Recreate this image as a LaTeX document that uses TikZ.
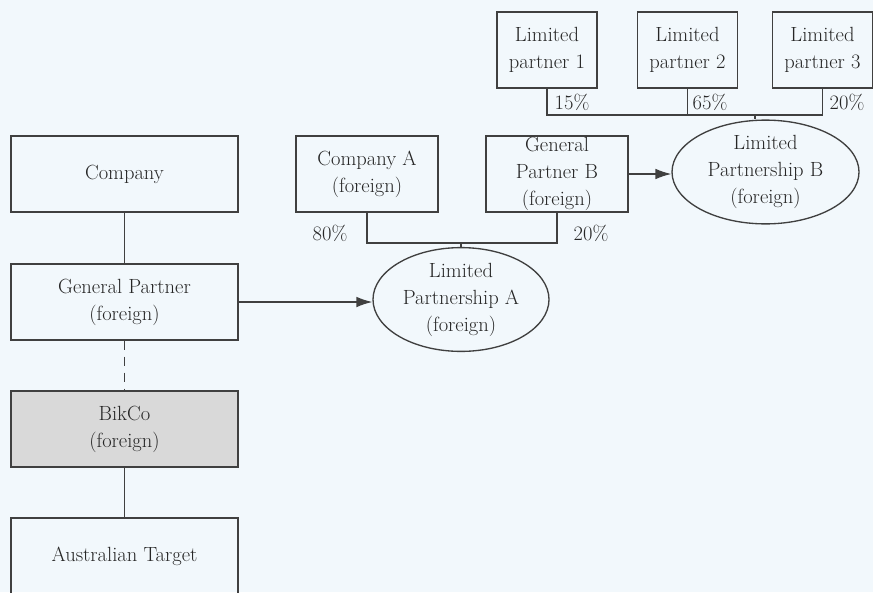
\documentclass[tikz,border=0pt]{standalone}
\usetikzlibrary{shapes.geometric,arrows.meta}
\definecolor{paper}{HTML}{F2F8FC}
\definecolor{ink}{HTML}{404040}
\begin{document}
\begin{tikzpicture}[x=0.75pt,y=-0.75pt,font={\fontsize{15.4}{20.25}\selectfont},text=black!85,
  box/.style={draw=ink,line width=1pt,align=center,inner sep=0pt,minimum height=57pt},
  oval/.style={ellipse,draw=ink,line width=1pt,align=center,inner sep=0pt},
  link/.style={draw=ink,line width=1pt},
  tip/.style={-{Latex[length=12pt,width=8pt]}},
  pct/.style={inner sep=0pt}]
\useasboundingbox[fill=paper] (0,0) rectangle (873,592);
\node[box,minimum width=170.25pt] (company) at (124.5,174) {Company};
\node[box,minimum width=170.25pt] (gp) at (124.5,302) {General Partner\\(foreign)};
\node[box,minimum width=170.25pt,fill=black!15] (bikco) at (124.5,429) {BikCo\\(foreign)};
\node[box,minimum width=170.25pt,minimum height=57.75pt] (target) at (124.5,556.5) {Australian Target};
\node[box,minimum width=106.5pt] (compa) at (367,174) {Company A\\(foreign)};
\node[box,minimum width=106.5pt] (gpb) at (557,174) {General\\Partner B\\(foreign)};
\node[oval,minimum width=132pt,minimum height=69.75pt] (lpa) at (461,299.5) {Limited\\Partnership A\\(foreign)};
\node[box,minimum width=75pt] (lp1) at (547,50) {Limited\\partner 1};
\node[box,minimum width=75pt] (lp2) at (687.5,50) {Limited\\partner 2};
\node[box,minimum width=75pt] (lp3) at (822.5,50) {Limited\\partner 3};
\node[oval,minimum width=140.25pt,minimum height=67.5pt] (lpb) at (765.5,172) {Limited\\Partnership B\\(foreign)};
\coordinate (ja) at (461,243);
\coordinate (jb) at (755,115);
\draw[link] (company) -- (gp);
\draw[link,dash pattern=on 7pt off 5pt] (gp) -- (bikco);
\draw[link] (bikco) -- (target);
\draw[link,tip] (gp) -- (gp -| lpa.west);
\draw[link,tip] (gpb) -- (gpb -| lpb.west);
\draw[link] (compa) |- (ja) -| (gpb);
\draw[link] (ja) -- (lpa);
\draw[link] (lp1) |- (jb) -| (lp3);
\draw[link] (lp2) -- (lp2 |- jb);
\draw[link] (jb) -- (jb |- lpb.north);
\node[pct] (p80) at (330,233) {80\%};
\node[pct] (p20a) at (591,233) {20\%};
\node[pct] (p15) at (572,102) {15\%};
\node[pct] (p65) at (710,102) {65\%};
\node[pct] (p20b) at (847,102) {20\%};
\end{tikzpicture}
\end{document}
